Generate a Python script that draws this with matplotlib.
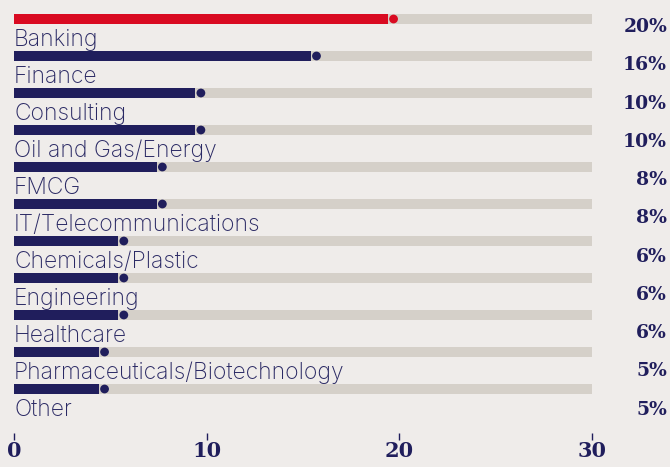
import matplotlib
matplotlib.use('Agg')
import matplotlib.pyplot as plt

# data
sectors = ['Banking', 'Finance', 'Consulting', 'Oil and Gas/Energy', 'FMCG',
           'IT/Telecommunications', 'Chemicals/Plastic', 'Engineering',
           'Healthcare', 'Pharmaceuticals/Biotechnology', 'Other']
shares = [19.7, 15.7, 9.7, 9.7, 7.7, 7.7, 5.7, 5.7, 5.7, 4.7, 4.7]
x_ticks = [0, 10, 20, 30]
x_max = 30

BG = '#efecea'
TRACK = '#d5d0c9'
NAVY = '#201e5c'
RED = '#d90a21'

fig = plt.figure(figsize=(6.7, 4.67), dpi=100)
fig.patch.set_facecolor(BG)
# axes placed so 0..30 spans the same pixels as the reference
ax = fig.add_axes([14 / 670, 34 / 467, 578 / 670, 433 / 467])
ax.set_facecolor(BG)
ax.set_xlim(0, x_max)
ax.set_ylim(11.189, -0.5135)

rows = list(range(len(sectors)))
colors = [RED] + [NAVY] * (len(sectors) - 1)
bar_h = 0.245

ax.barh(rows, [x_max] * len(rows), height=bar_h, color=TRACK, zorder=1)
ax.barh(rows, [v - 0.3 for v in shares], height=bar_h, color=colors, zorder=2)
ax.scatter(shares, rows, s=40, c=colors, zorder=3, linewidths=0)

for i, (name, v) in enumerate(zip(sectors, shares)):
    ax.text(0, i + 0.72, name, ha='left', va='baseline', fontsize=16.5,
            family='Inter', fontweight='light', color='#2a2964')
    ax.text(1.13, i * 1.034 + 0.22, f'{round(v)}%', transform=ax.get_yaxis_transform(),
            ha='right', va='center', fontsize=13.5, family='DejaVu Serif',
            fontweight='bold', color=NAVY)

ax.set_xticks(x_ticks)
ax.set_xticklabels([str(t) for t in x_ticks], family='DejaVu Serif',
                   fontweight='bold', fontsize=15, color=NAVY)
ax.tick_params(axis='x', length=5, width=1, color=NAVY, pad=1)
ax.set_yticks([])
for s in ax.spines.values():
    s.set_visible(False)

plt.savefig('out.png', dpi=100, facecolor=BG)
